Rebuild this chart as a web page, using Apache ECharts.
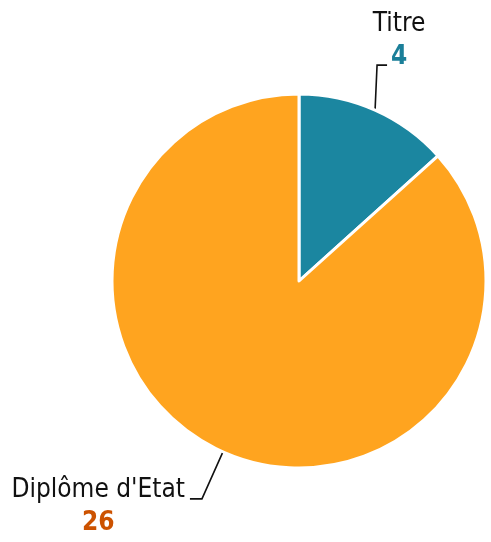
<!DOCTYPE html>
<html>
<head>
<meta charset="utf-8">
<script src="https://cdn.jsdelivr.net/npm/echarts@6/dist/echarts.min.js"></script>
<style>
html,body{margin:0;padding:0;background:#fff;}
#chart{width:491px;height:542px;}
</style>
</head>
<body>
<div id="chart"></div>
<script>
var categories = ['Titre', "Diplôme d'Etat"];
var values = [4, 26];
var sliceColors = ['#1b86a0', '#ffa41f'];
var valueColors = ['#1b7f99', '#cc5200'];

var chart = echarts.init(document.getElementById('chart'), null, {renderer: 'canvas'});
var FONT = '"DejaVu Sans Condensed", "DejaVu Sans", sans-serif';

var data = categories.map(function (c, i) {
  return {
    name: c,
    value: values[i],
    itemStyle: {color: sliceColors[i]},
    label: {
      rich: {
        n: {fontFamily: FONT, fontSize: 26, color: '#111', align: 'center', lineHeight: 33},
        v: {fontFamily: FONT, fontSize: 26, fontWeight: 'bold', color: valueColors[i], align: 'center', lineHeight: 33}
      }
    }
  };
});

chart.setOption({
  animation: false,
  series: [{
    type: 'pie',
    center: ['299px', '281px'],
    radius: 187,
    startAngle: 90,
    clockwise: true,
    avoidLabelOverlap: false,
    itemStyle: {borderColor: '#fff', borderWidth: 3},
    label: {
      show: true,
      position: 'outside',
      formatter: function (p) { return '{n|' + p.name + '}\n{v|' + p.value + '}'; }
    },
    labelLine: {
      show: true,
      length: 42,
      length2: 11,
      lineStyle: {color: '#111', width: 1.6}
    },
    emphasis: {disabled: true},
    data: data,
    labelLayout: function (p) {
      var pts = p.labelLinePoints;
      if (!pts) return {};
      var s = pts[0];
      if (p.dataIndex === 0) {
        var mid = [s[0] + 2, s[1] - 45];
        var end = [mid[0] + 10, mid[1]];
        return {
          x: end[0] + 12, y: end[1] + 9,
          align: 'center', verticalAlign: 'bottom',
          labelLinePoints: [s, mid, end]
        };
      } else {
        var mid2 = [s[0] - 21, s[1] + 47];
        var end2 = [mid2[0] - 12, mid2[1]];
        return {
          x: end2[0] - 5, y: end2[1] - 25,
          align: 'right', verticalAlign: 'top',
          labelLinePoints: [s, mid2, end2]
        };
      }
    }
  }]
});
</script>
</body>
</html>
